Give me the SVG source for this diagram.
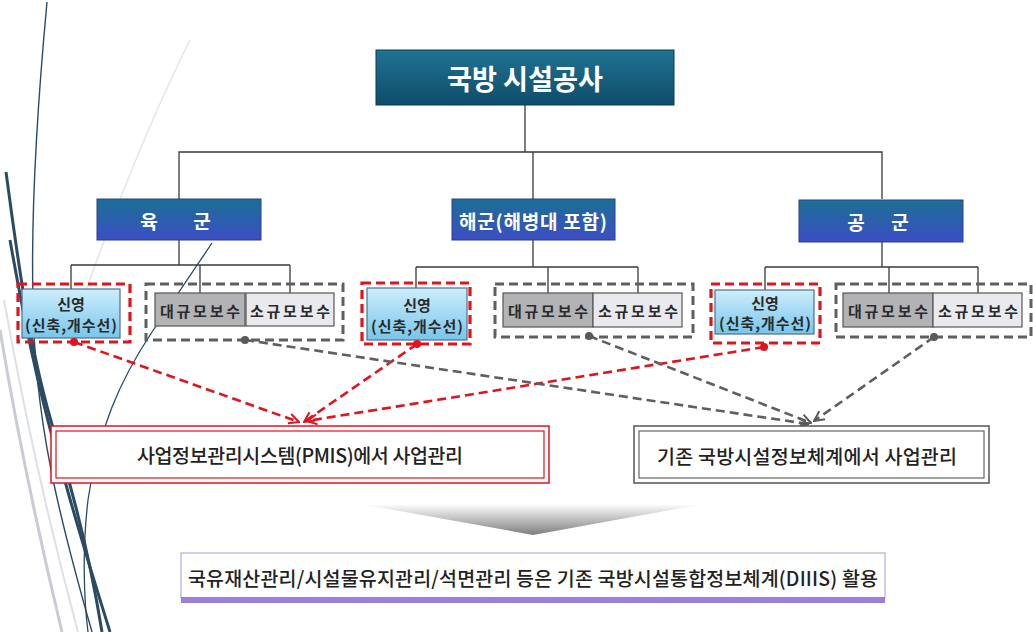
<svg xmlns="http://www.w3.org/2000/svg" width="1033" height="632" viewBox="0 0 1033 632">
<defs>
<linearGradient id="gTop" x1="0" y1="0" x2="0" y2="1"><stop offset="0" stop-color="#1f7392"/><stop offset="1" stop-color="#0f4c6a"/></linearGradient>
<linearGradient id="gMil" x1="0" y1="0" x2="0" y2="1"><stop offset="0" stop-color="#1b6f93"/><stop offset="1" stop-color="#3c4ec6"/></linearGradient>
<linearGradient id="gNew" x1="0" y1="0" x2="0" y2="1"><stop offset="0" stop-color="#cdeefb"/><stop offset="1" stop-color="#78c5ec"/></linearGradient>
<linearGradient id="gChev" x1="0" y1="0" x2="0" y2="1"><stop offset="0" stop-color="#ffffff"/><stop offset="1" stop-color="#7d7d7d"/></linearGradient>
<marker id="arR" viewBox="0 0 12 12" refX="11" refY="6" markerWidth="12" markerHeight="12" markerUnits="userSpaceOnUse" orient="auto"><path d="M1,1 L11,6 L1,11" fill="none" stroke="#e0141c" stroke-width="2"/></marker>
<marker id="arG" viewBox="0 0 12 12" refX="11" refY="6" markerWidth="12" markerHeight="12" markerUnits="userSpaceOnUse" orient="auto"><path d="M1,1 L11,6 L1,11" fill="none" stroke="#5a5a5a" stroke-width="2"/></marker>
<marker id="dotR" viewBox="0 0 10 10" refX="5" refY="5" markerWidth="9" markerHeight="9" markerUnits="userSpaceOnUse"><circle cx="5" cy="5" r="4.5" fill="#e0141c"/></marker>
<marker id="dotG" viewBox="0 0 10 10" refX="5" refY="5" markerWidth="9" markerHeight="9" markerUnits="userSpaceOnUse"><circle cx="5" cy="5" r="4.5" fill="#5a5a5a"/></marker>
</defs>
<style>
text{font-family:"Noto Sans CJK KR","Noto Sans",sans-serif;text-anchor:middle;dominant-baseline:central}
.hdr{fill:#fff;font-weight:bold}
.tree{fill:none;stroke:#3a3a3a;stroke-width:1.3}
.redgrp{fill:none;stroke:#e0141c;stroke-width:3.2;stroke-dasharray:9 5}
.graygrp{fill:none;stroke:#5f5f5f;stroke-width:3;stroke-dasharray:9 5}
.newbox{fill:url(#gNew);stroke:#4f6f8a;stroke-width:1.2}
.big{fill:#b3b3b6;stroke:#555;stroke-width:1.2}
.small{fill:#e9e9ee;stroke:#555;stroke-width:1.2}
.sub{font-size:15px;fill:#2a2a2a;font-weight:bold}
.main{font-size:19.5px;fill:#222;font-weight:500}
.rc{fill:none;stroke:#e0141c;stroke-width:2.6;stroke-dasharray:9 5}
.gc{fill:none;stroke:#5f5f5f;stroke-width:2.6;stroke-dasharray:9 5}
.dec{fill:none;stroke:#2b4a63}
</style>
<rect width="1033" height="632" fill="#fff"/>
<g id="decor">
<path class="dec" d="M47,2 C36,120 31,220 33,300 C34,420 60,520 92,632" stroke-width="1.4"/>
<path class="dec" d="M6,172 C18,260 30,360 60,450 C78,510 92,570 102,632" stroke-width="3"/>
<path class="dec" d="M10,240 C24,320 40,400 62,470 C78,530 94,580 110,632" stroke-width="3"/>
<path d="M0,330 C15,420 35,520 62,632" fill="none" stroke="#c9ccd2" stroke-width="3"/>
<path d="M4,300 C22,400 45,510 78,632" fill="none" stroke="#dde0e5" stroke-width="2"/>
<path d="M190,40 C150,120 110,220 72,330" fill="none" stroke="#e3e6ea" stroke-width="1.5"/>
<path class="dec" d="M212,243 L152,332 C120,380 98,430 88,500 C82,550 84,600 88,632" stroke-width="1.3"/>
</g>
<g id="tree-lines">
<path class="tree" d="M525,105 V152 M179,199 V152 H882 V199 M533,152 V199"/>
<path class="tree" d="M179,240 V265 M71,265 H290 M71,265 V289 M200,265 V293 M290,265 V293"/>
<path class="tree" d="M533,240 V267 M416,267 H638 M416,267 V288 M548,267 V293 M638,267 V293"/>
<path class="tree" d="M882,242 V267 M765,267 H978 M765,267 V290 M889,267 V293 M978,267 V293"/>
</g>
<g id="top"><rect x="376" y="50" width="298" height="55" fill="url(#gTop)" stroke="#0b3d55" stroke-width="1"/><text class="hdr" x="525" y="78" font-size="28" textLength="156" lengthAdjust="spacingAndGlyphs">국방 시설공사</text></g>
<g id="army"><rect x="97" y="199" width="164" height="41" fill="url(#gMil)" stroke="#2a3f8f"/><text class="hdr" x="149" y="220" font-size="19">육</text><text class="hdr" x="202" y="220" font-size="19">군</text></g>
<g id="navy"><rect x="452" y="199" width="163" height="41" fill="url(#gMil)" stroke="#2a3f8f"/><text class="hdr" x="533" y="220" font-size="19" textLength="148" lengthAdjust="spacing">해군(해병대 포함)</text></g>
<g id="airforce"><rect x="799" y="200" width="164" height="42" fill="url(#gMil)" stroke="#2a3f8f"/><text class="hdr" x="856" y="221" font-size="19">공</text><text class="hdr" x="900" y="221" font-size="19">군</text></g>

<g id="army-new"><rect class="redgrp" x="18" y="284" width="112" height="58"/><rect class="newbox" x="22" y="289" width="98" height="49"/><text class="sub" x="71" y="303">신영</text><text class="sub" x="71" y="324" textLength="92" lengthAdjust="spacing">(신축,개수선)</text></g>
<g id="army-repair"><rect class="graygrp" x="146" y="284" width="197" height="56"/><rect class="big" x="155" y="293" width="90" height="33"/><text class="sub" x="200" y="310" textLength="80" lengthAdjust="spacing">대규모보수</text><rect class="small" x="246" y="293" width="88" height="33"/><text class="sub" x="290" y="310" textLength="80" lengthAdjust="spacing">소규모보수</text></g>

<g id="navy-new"><rect class="redgrp" x="362" y="283" width="108" height="61"/><rect class="newbox" x="367" y="288" width="100" height="52"/><text class="sub" x="417" y="304">신영</text><text class="sub" x="417" y="325" textLength="92" lengthAdjust="spacing">(신축,개수선)</text></g>
<g id="navy-repair"><rect class="graygrp" x="495" y="284" width="198" height="53"/><rect class="big" x="503" y="293" width="90" height="34"/><text class="sub" x="548" y="310" textLength="80" lengthAdjust="spacing">대규모보수</text><rect class="small" x="593" y="293" width="89" height="34"/><text class="sub" x="638" y="310" textLength="80" lengthAdjust="spacing">소규모보수</text></g>

<g id="af-new"><rect class="redgrp" x="711" y="284" width="109" height="59"/><rect class="newbox" x="715" y="290" width="99" height="44"/><text class="sub" x="765" y="302">신영</text><text class="sub" x="765" y="322" textLength="92" lengthAdjust="spacing">(신축,개수선)</text></g>
<g id="af-repair"><rect class="graygrp" x="836" y="284" width="195" height="53"/><rect class="big" x="843" y="293" width="90" height="34"/><text class="sub" x="888" y="310" textLength="80" lengthAdjust="spacing">대규모보수</text><rect class="small" x="933" y="293" width="89" height="34"/><text class="sub" x="978" y="310" textLength="80" lengthAdjust="spacing">소규모보수</text></g>

<g id="connectors">
<path class="rc" d="M74,342 L299,422" marker-start="url(#dotR)" marker-end="url(#arR)"/>
<path class="rc" d="M417,344 L304,422" marker-start="url(#dotR)" marker-end="url(#arR)"/>
<path class="rc" d="M764,347 L307,421" marker-start="url(#dotR)" marker-end="url(#arR)"/>
<path class="gc" d="M245,340 L808,424" marker-start="url(#dotG)" marker-end="url(#arG)"/>
<path class="gc" d="M589,336 L811,423" marker-start="url(#dotG)" marker-end="url(#arG)"/>
<path class="gc" d="M934,337 L814,421" marker-start="url(#dotG)" marker-end="url(#arG)"/>
</g>

<g id="pmis"><rect x="51" y="426" width="498" height="57" fill="#fff" stroke="#e0141c" stroke-width="1.5"/><rect x="56" y="431" width="488" height="47" fill="#fff" stroke="#e0141c" stroke-width="1.2"/><text class="main" x="300" y="454" textLength="326" lengthAdjust="spacing">사업정보관리시스템(PMIS)에서 사업관리</text></g>
<g id="existing"><rect x="634" y="426" width="355" height="57" fill="#fff" stroke="#555" stroke-width="1.5"/><rect x="639" y="431" width="345" height="47" fill="#fff" stroke="#666" stroke-width="1.2"/><text class="main" x="807" y="455" textLength="300" lengthAdjust="spacing">기존 국방시설정보체계에서 사업관리</text></g>

<g id="chevron"><path d="M366,505 Q533,503 698,505 L533,535 Z" fill="url(#gChev)"/></g>

<g id="diis"><rect x="181" y="553" width="704" height="45" fill="#fff" stroke="#a99ad8" stroke-width="1"/><rect x="181" y="597" width="704" height="6" fill="#9a7fdc"/><text class="main" x="533" y="577" textLength="690" lengthAdjust="spacing">국유재산관리/시설물유지관리/석면관리 등은 기존 국방시설통합정보체계(DIIIS) 활용</text></g>
</svg>
